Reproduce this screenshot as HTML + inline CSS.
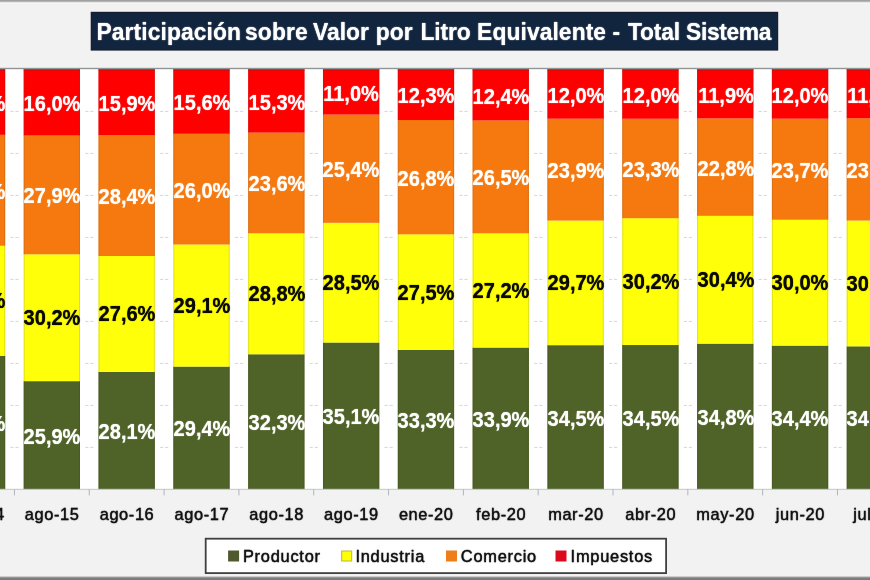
<!DOCTYPE html>
<html lang="es"><head><meta charset="utf-8"><title>Participación sobre Valor por Litro Equivalente</title>
<style>
html,body{margin:0;padding:0}
body{width:870px;height:580px;overflow:hidden;position:relative;background:#f2f2f2;font-family:"Liberation Sans",sans-serif}
.a{position:absolute}
svg{position:absolute;left:0;top:0}
#wrap{position:absolute;left:-10px;top:-10px;width:890px;height:600px;overflow:hidden;background:#f2f2f2}
#txt{position:absolute;left:0;top:0;width:870px;height:580px}
#in{position:absolute;left:10px;top:10px;width:870px;height:580px}
svg{overflow:visible}
.v{position:absolute;white-space:nowrap;font-weight:bold;font-size:21.2px;line-height:20px;height:20px;transform:translateX(-50%) scaleX(.945);text-shadow:0 0 1px currentColor}
.x{position:absolute;top:503.5px;width:90px;margin-left:-44.7px;text-align:center;font-size:16.4px;line-height:20px;color:#111;white-space:nowrap;letter-spacing:.6px;-webkit-text-stroke:.3px #111;text-shadow:0 0 1.2px rgba(17,17,17,.85)}
.lg{position:absolute;top:546.3px;-webkit-text-stroke:.3px #111;text-shadow:0 0 1.2px rgba(17,17,17,.85);font-size:16.4px;line-height:20px;color:#111;white-space:nowrap;letter-spacing:.75px}
</style></head><body>
<div id="wrap"><div id="in">
<div class="a" style="left:-10px;top:-10px;width:890px;height:14px;background:linear-gradient(#9c9c9c 0,#9c9c9c 10px,#a6a6a6 11.2px,#ececec 12.6px,#f6f6f6 13.2px,#f2f2f2 14px)"></div>
<div class="a" style="left:-10px;top:576.4px;width:890px;height:13.6px;background:linear-gradient(#f2f2f2 0,#a8a8a8 1px,#808080 2px,#7a7a7a 3.6px,#7a7a7a 13.6px)"></div>
<svg width="870" height="580" viewBox="0 0 870 580">
<rect x="-10" y="67.90" width="890" height="421.30" fill="#fff"/>
<rect x="-10" y="67.80" width="890" height="1.4" fill="#8f9494"/>
<rect x="-64.4" y="110.90" width="3.2" height="1" fill="#d3d6de"/><rect x="-59.4" y="110.90" width="3.2" height="1" fill="#d3d6de"/>
<rect x="10.4" y="110.90" width="3.2" height="1" fill="#d3d6de"/><rect x="15.4" y="110.90" width="3.2" height="1" fill="#d3d6de"/>
<rect x="85.3" y="110.90" width="3.2" height="1" fill="#d3d6de"/><rect x="90.3" y="110.90" width="3.2" height="1" fill="#d3d6de"/>
<rect x="160.1" y="110.90" width="3.2" height="1" fill="#d3d6de"/><rect x="165.1" y="110.90" width="3.2" height="1" fill="#d3d6de"/>
<rect x="234.9" y="110.90" width="3.2" height="1" fill="#d3d6de"/><rect x="239.9" y="110.90" width="3.2" height="1" fill="#d3d6de"/>
<rect x="309.7" y="110.90" width="3.2" height="1" fill="#d3d6de"/><rect x="314.7" y="110.90" width="3.2" height="1" fill="#d3d6de"/>
<rect x="384.5" y="110.90" width="3.2" height="1" fill="#d3d6de"/><rect x="389.5" y="110.90" width="3.2" height="1" fill="#d3d6de"/>
<rect x="459.4" y="110.90" width="3.2" height="1" fill="#d3d6de"/><rect x="464.4" y="110.90" width="3.2" height="1" fill="#d3d6de"/>
<rect x="534.2" y="110.90" width="3.2" height="1" fill="#d3d6de"/><rect x="539.2" y="110.90" width="3.2" height="1" fill="#d3d6de"/>
<rect x="609.0" y="110.90" width="3.2" height="1" fill="#d3d6de"/><rect x="614.0" y="110.90" width="3.2" height="1" fill="#d3d6de"/>
<rect x="683.8" y="110.90" width="3.2" height="1" fill="#d3d6de"/><rect x="688.8" y="110.90" width="3.2" height="1" fill="#d3d6de"/>
<rect x="758.6" y="110.90" width="3.2" height="1" fill="#d3d6de"/><rect x="763.6" y="110.90" width="3.2" height="1" fill="#d3d6de"/>
<rect x="833.5" y="110.90" width="3.2" height="1" fill="#d3d6de"/><rect x="838.5" y="110.90" width="3.2" height="1" fill="#d3d6de"/>
<rect x="-64.4" y="152.90" width="3.2" height="1" fill="#d3d6de"/><rect x="-59.4" y="152.90" width="3.2" height="1" fill="#d3d6de"/>
<rect x="10.4" y="152.90" width="3.2" height="1" fill="#d3d6de"/><rect x="15.4" y="152.90" width="3.2" height="1" fill="#d3d6de"/>
<rect x="85.3" y="152.90" width="3.2" height="1" fill="#d3d6de"/><rect x="90.3" y="152.90" width="3.2" height="1" fill="#d3d6de"/>
<rect x="160.1" y="152.90" width="3.2" height="1" fill="#d3d6de"/><rect x="165.1" y="152.90" width="3.2" height="1" fill="#d3d6de"/>
<rect x="234.9" y="152.90" width="3.2" height="1" fill="#d3d6de"/><rect x="239.9" y="152.90" width="3.2" height="1" fill="#d3d6de"/>
<rect x="309.7" y="152.90" width="3.2" height="1" fill="#d3d6de"/><rect x="314.7" y="152.90" width="3.2" height="1" fill="#d3d6de"/>
<rect x="384.5" y="152.90" width="3.2" height="1" fill="#d3d6de"/><rect x="389.5" y="152.90" width="3.2" height="1" fill="#d3d6de"/>
<rect x="459.4" y="152.90" width="3.2" height="1" fill="#d3d6de"/><rect x="464.4" y="152.90" width="3.2" height="1" fill="#d3d6de"/>
<rect x="534.2" y="152.90" width="3.2" height="1" fill="#d3d6de"/><rect x="539.2" y="152.90" width="3.2" height="1" fill="#d3d6de"/>
<rect x="609.0" y="152.90" width="3.2" height="1" fill="#d3d6de"/><rect x="614.0" y="152.90" width="3.2" height="1" fill="#d3d6de"/>
<rect x="683.8" y="152.90" width="3.2" height="1" fill="#d3d6de"/><rect x="688.8" y="152.90" width="3.2" height="1" fill="#d3d6de"/>
<rect x="758.6" y="152.90" width="3.2" height="1" fill="#d3d6de"/><rect x="763.6" y="152.90" width="3.2" height="1" fill="#d3d6de"/>
<rect x="833.5" y="152.90" width="3.2" height="1" fill="#d3d6de"/><rect x="838.5" y="152.90" width="3.2" height="1" fill="#d3d6de"/>
<rect x="-64.4" y="194.90" width="3.2" height="1" fill="#d3d6de"/><rect x="-59.4" y="194.90" width="3.2" height="1" fill="#d3d6de"/>
<rect x="10.4" y="194.90" width="3.2" height="1" fill="#d3d6de"/><rect x="15.4" y="194.90" width="3.2" height="1" fill="#d3d6de"/>
<rect x="85.3" y="194.90" width="3.2" height="1" fill="#d3d6de"/><rect x="90.3" y="194.90" width="3.2" height="1" fill="#d3d6de"/>
<rect x="160.1" y="194.90" width="3.2" height="1" fill="#d3d6de"/><rect x="165.1" y="194.90" width="3.2" height="1" fill="#d3d6de"/>
<rect x="234.9" y="194.90" width="3.2" height="1" fill="#d3d6de"/><rect x="239.9" y="194.90" width="3.2" height="1" fill="#d3d6de"/>
<rect x="309.7" y="194.90" width="3.2" height="1" fill="#d3d6de"/><rect x="314.7" y="194.90" width="3.2" height="1" fill="#d3d6de"/>
<rect x="384.5" y="194.90" width="3.2" height="1" fill="#d3d6de"/><rect x="389.5" y="194.90" width="3.2" height="1" fill="#d3d6de"/>
<rect x="459.4" y="194.90" width="3.2" height="1" fill="#d3d6de"/><rect x="464.4" y="194.90" width="3.2" height="1" fill="#d3d6de"/>
<rect x="534.2" y="194.90" width="3.2" height="1" fill="#d3d6de"/><rect x="539.2" y="194.90" width="3.2" height="1" fill="#d3d6de"/>
<rect x="609.0" y="194.90" width="3.2" height="1" fill="#d3d6de"/><rect x="614.0" y="194.90" width="3.2" height="1" fill="#d3d6de"/>
<rect x="683.8" y="194.90" width="3.2" height="1" fill="#d3d6de"/><rect x="688.8" y="194.90" width="3.2" height="1" fill="#d3d6de"/>
<rect x="758.6" y="194.90" width="3.2" height="1" fill="#d3d6de"/><rect x="763.6" y="194.90" width="3.2" height="1" fill="#d3d6de"/>
<rect x="833.5" y="194.90" width="3.2" height="1" fill="#d3d6de"/><rect x="838.5" y="194.90" width="3.2" height="1" fill="#d3d6de"/>
<rect x="-64.4" y="236.90" width="3.2" height="1" fill="#d3d6de"/><rect x="-59.4" y="236.90" width="3.2" height="1" fill="#d3d6de"/>
<rect x="10.4" y="236.90" width="3.2" height="1" fill="#d3d6de"/><rect x="15.4" y="236.90" width="3.2" height="1" fill="#d3d6de"/>
<rect x="85.3" y="236.90" width="3.2" height="1" fill="#d3d6de"/><rect x="90.3" y="236.90" width="3.2" height="1" fill="#d3d6de"/>
<rect x="160.1" y="236.90" width="3.2" height="1" fill="#d3d6de"/><rect x="165.1" y="236.90" width="3.2" height="1" fill="#d3d6de"/>
<rect x="234.9" y="236.90" width="3.2" height="1" fill="#d3d6de"/><rect x="239.9" y="236.90" width="3.2" height="1" fill="#d3d6de"/>
<rect x="309.7" y="236.90" width="3.2" height="1" fill="#d3d6de"/><rect x="314.7" y="236.90" width="3.2" height="1" fill="#d3d6de"/>
<rect x="384.5" y="236.90" width="3.2" height="1" fill="#d3d6de"/><rect x="389.5" y="236.90" width="3.2" height="1" fill="#d3d6de"/>
<rect x="459.4" y="236.90" width="3.2" height="1" fill="#d3d6de"/><rect x="464.4" y="236.90" width="3.2" height="1" fill="#d3d6de"/>
<rect x="534.2" y="236.90" width="3.2" height="1" fill="#d3d6de"/><rect x="539.2" y="236.90" width="3.2" height="1" fill="#d3d6de"/>
<rect x="609.0" y="236.90" width="3.2" height="1" fill="#d3d6de"/><rect x="614.0" y="236.90" width="3.2" height="1" fill="#d3d6de"/>
<rect x="683.8" y="236.90" width="3.2" height="1" fill="#d3d6de"/><rect x="688.8" y="236.90" width="3.2" height="1" fill="#d3d6de"/>
<rect x="758.6" y="236.90" width="3.2" height="1" fill="#d3d6de"/><rect x="763.6" y="236.90" width="3.2" height="1" fill="#d3d6de"/>
<rect x="833.5" y="236.90" width="3.2" height="1" fill="#d3d6de"/><rect x="838.5" y="236.90" width="3.2" height="1" fill="#d3d6de"/>
<rect x="-64.4" y="278.90" width="3.2" height="1" fill="#d3d6de"/><rect x="-59.4" y="278.90" width="3.2" height="1" fill="#d3d6de"/>
<rect x="10.4" y="278.90" width="3.2" height="1" fill="#d3d6de"/><rect x="15.4" y="278.90" width="3.2" height="1" fill="#d3d6de"/>
<rect x="85.3" y="278.90" width="3.2" height="1" fill="#d3d6de"/><rect x="90.3" y="278.90" width="3.2" height="1" fill="#d3d6de"/>
<rect x="160.1" y="278.90" width="3.2" height="1" fill="#d3d6de"/><rect x="165.1" y="278.90" width="3.2" height="1" fill="#d3d6de"/>
<rect x="234.9" y="278.90" width="3.2" height="1" fill="#d3d6de"/><rect x="239.9" y="278.90" width="3.2" height="1" fill="#d3d6de"/>
<rect x="309.7" y="278.90" width="3.2" height="1" fill="#d3d6de"/><rect x="314.7" y="278.90" width="3.2" height="1" fill="#d3d6de"/>
<rect x="384.5" y="278.90" width="3.2" height="1" fill="#d3d6de"/><rect x="389.5" y="278.90" width="3.2" height="1" fill="#d3d6de"/>
<rect x="459.4" y="278.90" width="3.2" height="1" fill="#d3d6de"/><rect x="464.4" y="278.90" width="3.2" height="1" fill="#d3d6de"/>
<rect x="534.2" y="278.90" width="3.2" height="1" fill="#d3d6de"/><rect x="539.2" y="278.90" width="3.2" height="1" fill="#d3d6de"/>
<rect x="609.0" y="278.90" width="3.2" height="1" fill="#d3d6de"/><rect x="614.0" y="278.90" width="3.2" height="1" fill="#d3d6de"/>
<rect x="683.8" y="278.90" width="3.2" height="1" fill="#d3d6de"/><rect x="688.8" y="278.90" width="3.2" height="1" fill="#d3d6de"/>
<rect x="758.6" y="278.90" width="3.2" height="1" fill="#d3d6de"/><rect x="763.6" y="278.90" width="3.2" height="1" fill="#d3d6de"/>
<rect x="833.5" y="278.90" width="3.2" height="1" fill="#d3d6de"/><rect x="838.5" y="278.90" width="3.2" height="1" fill="#d3d6de"/>
<rect x="-64.4" y="320.90" width="3.2" height="1" fill="#d3d6de"/><rect x="-59.4" y="320.90" width="3.2" height="1" fill="#d3d6de"/>
<rect x="10.4" y="320.90" width="3.2" height="1" fill="#d3d6de"/><rect x="15.4" y="320.90" width="3.2" height="1" fill="#d3d6de"/>
<rect x="85.3" y="320.90" width="3.2" height="1" fill="#d3d6de"/><rect x="90.3" y="320.90" width="3.2" height="1" fill="#d3d6de"/>
<rect x="160.1" y="320.90" width="3.2" height="1" fill="#d3d6de"/><rect x="165.1" y="320.90" width="3.2" height="1" fill="#d3d6de"/>
<rect x="234.9" y="320.90" width="3.2" height="1" fill="#d3d6de"/><rect x="239.9" y="320.90" width="3.2" height="1" fill="#d3d6de"/>
<rect x="309.7" y="320.90" width="3.2" height="1" fill="#d3d6de"/><rect x="314.7" y="320.90" width="3.2" height="1" fill="#d3d6de"/>
<rect x="384.5" y="320.90" width="3.2" height="1" fill="#d3d6de"/><rect x="389.5" y="320.90" width="3.2" height="1" fill="#d3d6de"/>
<rect x="459.4" y="320.90" width="3.2" height="1" fill="#d3d6de"/><rect x="464.4" y="320.90" width="3.2" height="1" fill="#d3d6de"/>
<rect x="534.2" y="320.90" width="3.2" height="1" fill="#d3d6de"/><rect x="539.2" y="320.90" width="3.2" height="1" fill="#d3d6de"/>
<rect x="609.0" y="320.90" width="3.2" height="1" fill="#d3d6de"/><rect x="614.0" y="320.90" width="3.2" height="1" fill="#d3d6de"/>
<rect x="683.8" y="320.90" width="3.2" height="1" fill="#d3d6de"/><rect x="688.8" y="320.90" width="3.2" height="1" fill="#d3d6de"/>
<rect x="758.6" y="320.90" width="3.2" height="1" fill="#d3d6de"/><rect x="763.6" y="320.90" width="3.2" height="1" fill="#d3d6de"/>
<rect x="833.5" y="320.90" width="3.2" height="1" fill="#d3d6de"/><rect x="838.5" y="320.90" width="3.2" height="1" fill="#d3d6de"/>
<rect x="-64.4" y="362.90" width="3.2" height="1" fill="#d3d6de"/><rect x="-59.4" y="362.90" width="3.2" height="1" fill="#d3d6de"/>
<rect x="10.4" y="362.90" width="3.2" height="1" fill="#d3d6de"/><rect x="15.4" y="362.90" width="3.2" height="1" fill="#d3d6de"/>
<rect x="85.3" y="362.90" width="3.2" height="1" fill="#d3d6de"/><rect x="90.3" y="362.90" width="3.2" height="1" fill="#d3d6de"/>
<rect x="160.1" y="362.90" width="3.2" height="1" fill="#d3d6de"/><rect x="165.1" y="362.90" width="3.2" height="1" fill="#d3d6de"/>
<rect x="234.9" y="362.90" width="3.2" height="1" fill="#d3d6de"/><rect x="239.9" y="362.90" width="3.2" height="1" fill="#d3d6de"/>
<rect x="309.7" y="362.90" width="3.2" height="1" fill="#d3d6de"/><rect x="314.7" y="362.90" width="3.2" height="1" fill="#d3d6de"/>
<rect x="384.5" y="362.90" width="3.2" height="1" fill="#d3d6de"/><rect x="389.5" y="362.90" width="3.2" height="1" fill="#d3d6de"/>
<rect x="459.4" y="362.90" width="3.2" height="1" fill="#d3d6de"/><rect x="464.4" y="362.90" width="3.2" height="1" fill="#d3d6de"/>
<rect x="534.2" y="362.90" width="3.2" height="1" fill="#d3d6de"/><rect x="539.2" y="362.90" width="3.2" height="1" fill="#d3d6de"/>
<rect x="609.0" y="362.90" width="3.2" height="1" fill="#d3d6de"/><rect x="614.0" y="362.90" width="3.2" height="1" fill="#d3d6de"/>
<rect x="683.8" y="362.90" width="3.2" height="1" fill="#d3d6de"/><rect x="688.8" y="362.90" width="3.2" height="1" fill="#d3d6de"/>
<rect x="758.6" y="362.90" width="3.2" height="1" fill="#d3d6de"/><rect x="763.6" y="362.90" width="3.2" height="1" fill="#d3d6de"/>
<rect x="833.5" y="362.90" width="3.2" height="1" fill="#d3d6de"/><rect x="838.5" y="362.90" width="3.2" height="1" fill="#d3d6de"/>
<rect x="-64.4" y="404.90" width="3.2" height="1" fill="#d3d6de"/><rect x="-59.4" y="404.90" width="3.2" height="1" fill="#d3d6de"/>
<rect x="10.4" y="404.90" width="3.2" height="1" fill="#d3d6de"/><rect x="15.4" y="404.90" width="3.2" height="1" fill="#d3d6de"/>
<rect x="85.3" y="404.90" width="3.2" height="1" fill="#d3d6de"/><rect x="90.3" y="404.90" width="3.2" height="1" fill="#d3d6de"/>
<rect x="160.1" y="404.90" width="3.2" height="1" fill="#d3d6de"/><rect x="165.1" y="404.90" width="3.2" height="1" fill="#d3d6de"/>
<rect x="234.9" y="404.90" width="3.2" height="1" fill="#d3d6de"/><rect x="239.9" y="404.90" width="3.2" height="1" fill="#d3d6de"/>
<rect x="309.7" y="404.90" width="3.2" height="1" fill="#d3d6de"/><rect x="314.7" y="404.90" width="3.2" height="1" fill="#d3d6de"/>
<rect x="384.5" y="404.90" width="3.2" height="1" fill="#d3d6de"/><rect x="389.5" y="404.90" width="3.2" height="1" fill="#d3d6de"/>
<rect x="459.4" y="404.90" width="3.2" height="1" fill="#d3d6de"/><rect x="464.4" y="404.90" width="3.2" height="1" fill="#d3d6de"/>
<rect x="534.2" y="404.90" width="3.2" height="1" fill="#d3d6de"/><rect x="539.2" y="404.90" width="3.2" height="1" fill="#d3d6de"/>
<rect x="609.0" y="404.90" width="3.2" height="1" fill="#d3d6de"/><rect x="614.0" y="404.90" width="3.2" height="1" fill="#d3d6de"/>
<rect x="683.8" y="404.90" width="3.2" height="1" fill="#d3d6de"/><rect x="688.8" y="404.90" width="3.2" height="1" fill="#d3d6de"/>
<rect x="758.6" y="404.90" width="3.2" height="1" fill="#d3d6de"/><rect x="763.6" y="404.90" width="3.2" height="1" fill="#d3d6de"/>
<rect x="833.5" y="404.90" width="3.2" height="1" fill="#d3d6de"/><rect x="838.5" y="404.90" width="3.2" height="1" fill="#d3d6de"/>
<rect x="-64.4" y="446.90" width="3.2" height="1" fill="#d3d6de"/><rect x="-59.4" y="446.90" width="3.2" height="1" fill="#d3d6de"/>
<rect x="10.4" y="446.90" width="3.2" height="1" fill="#d3d6de"/><rect x="15.4" y="446.90" width="3.2" height="1" fill="#d3d6de"/>
<rect x="85.3" y="446.90" width="3.2" height="1" fill="#d3d6de"/><rect x="90.3" y="446.90" width="3.2" height="1" fill="#d3d6de"/>
<rect x="160.1" y="446.90" width="3.2" height="1" fill="#d3d6de"/><rect x="165.1" y="446.90" width="3.2" height="1" fill="#d3d6de"/>
<rect x="234.9" y="446.90" width="3.2" height="1" fill="#d3d6de"/><rect x="239.9" y="446.90" width="3.2" height="1" fill="#d3d6de"/>
<rect x="309.7" y="446.90" width="3.2" height="1" fill="#d3d6de"/><rect x="314.7" y="446.90" width="3.2" height="1" fill="#d3d6de"/>
<rect x="384.5" y="446.90" width="3.2" height="1" fill="#d3d6de"/><rect x="389.5" y="446.90" width="3.2" height="1" fill="#d3d6de"/>
<rect x="459.4" y="446.90" width="3.2" height="1" fill="#d3d6de"/><rect x="464.4" y="446.90" width="3.2" height="1" fill="#d3d6de"/>
<rect x="534.2" y="446.90" width="3.2" height="1" fill="#d3d6de"/><rect x="539.2" y="446.90" width="3.2" height="1" fill="#d3d6de"/>
<rect x="609.0" y="446.90" width="3.2" height="1" fill="#d3d6de"/><rect x="614.0" y="446.90" width="3.2" height="1" fill="#d3d6de"/>
<rect x="683.8" y="446.90" width="3.2" height="1" fill="#d3d6de"/><rect x="688.8" y="446.90" width="3.2" height="1" fill="#d3d6de"/>
<rect x="758.6" y="446.90" width="3.2" height="1" fill="#d3d6de"/><rect x="763.6" y="446.90" width="3.2" height="1" fill="#d3d6de"/>
<rect x="833.5" y="446.90" width="3.2" height="1" fill="#d3d6de"/><rect x="838.5" y="446.90" width="3.2" height="1" fill="#d3d6de"/>
<rect x="-51.12" y="355.90" width="56.3" height="133.35" fill="#4f6228"/>
<rect x="-51.12" y="355.90" width="1" height="133.30" fill="#46561f" opacity=".55"/><rect x="4.18" y="355.90" width="1" height="133.30" fill="#46561f" opacity=".55"/>
<rect x="-51.12" y="245.70" width="56.3" height="110.25" fill="#ffff0a"/>
<rect x="-51.12" y="245.70" width="1" height="110.20" fill="#c9c91e" opacity=".55"/><rect x="4.18" y="245.70" width="1" height="110.20" fill="#c9c91e" opacity=".55"/>
<rect x="-51.12" y="134.80" width="56.3" height="110.95" fill="#f5790f"/>
<rect x="-51.12" y="134.80" width="1" height="110.90" fill="#c9691a" opacity=".55"/><rect x="4.18" y="134.80" width="1" height="110.90" fill="#c9691a" opacity=".55"/>
<rect x="-51.12" y="69.20" width="56.3" height="65.65" fill="#fe0000"/>
<rect x="-51.12" y="69.20" width="1" height="65.60" fill="#cf1010" opacity=".55"/><rect x="4.18" y="69.20" width="1" height="65.60" fill="#cf1010" opacity=".55"/>
<rect x="-51.12" y="69.20" width="56.3" height="1.5" fill="#a01c1c" opacity=".45"/>
<rect x="23.70" y="381.12" width="56.3" height="108.13" fill="#4f6228"/>
<rect x="23.70" y="381.12" width="1" height="108.08" fill="#46561f" opacity=".55"/><rect x="79.00" y="381.12" width="1" height="108.08" fill="#46561f" opacity=".55"/>
<rect x="23.70" y="254.28" width="56.3" height="126.89" fill="#ffff0a"/>
<rect x="23.70" y="254.28" width="1" height="126.84" fill="#c9c91e" opacity=".55"/><rect x="79.00" y="254.28" width="1" height="126.84" fill="#c9c91e" opacity=".55"/>
<rect x="23.70" y="135.50" width="56.3" height="118.83" fill="#f5790f"/>
<rect x="23.70" y="135.50" width="1" height="118.78" fill="#c9691a" opacity=".55"/><rect x="79.00" y="135.50" width="1" height="118.78" fill="#c9691a" opacity=".55"/>
<rect x="23.70" y="69.20" width="56.3" height="66.35" fill="#fe0000"/>
<rect x="23.70" y="69.20" width="1" height="66.30" fill="#cf1010" opacity=".55"/><rect x="79.00" y="69.20" width="1" height="66.30" fill="#cf1010" opacity=".55"/>
<rect x="23.70" y="69.20" width="56.3" height="1.5" fill="#a01c1c" opacity=".45"/>
<rect x="98.52" y="371.88" width="56.3" height="117.37" fill="#4f6228"/>
<rect x="98.52" y="371.88" width="1" height="117.32" fill="#46561f" opacity=".55"/><rect x="153.82" y="371.88" width="1" height="117.32" fill="#46561f" opacity=".55"/>
<rect x="98.52" y="255.96" width="56.3" height="115.97" fill="#ffff0a"/>
<rect x="98.52" y="255.96" width="1" height="115.92" fill="#c9c91e" opacity=".55"/><rect x="153.82" y="255.96" width="1" height="115.92" fill="#c9c91e" opacity=".55"/>
<rect x="98.52" y="135.08" width="56.3" height="120.93" fill="#f5790f"/>
<rect x="98.52" y="135.08" width="1" height="120.88" fill="#c9691a" opacity=".55"/><rect x="153.82" y="135.08" width="1" height="120.88" fill="#c9691a" opacity=".55"/>
<rect x="98.52" y="69.20" width="56.3" height="65.93" fill="#fe0000"/>
<rect x="98.52" y="69.20" width="1" height="65.88" fill="#cf1010" opacity=".55"/><rect x="153.82" y="69.20" width="1" height="65.88" fill="#cf1010" opacity=".55"/>
<rect x="98.52" y="69.20" width="56.3" height="1.5" fill="#a01c1c" opacity=".45"/>
<rect x="173.34" y="366.54" width="56.3" height="122.71" fill="#4f6228"/>
<rect x="173.34" y="366.54" width="1" height="122.66" fill="#46561f" opacity=".55"/><rect x="228.64" y="366.54" width="1" height="122.66" fill="#46561f" opacity=".55"/>
<rect x="173.34" y="244.45" width="56.3" height="122.15" fill="#ffff0a"/>
<rect x="173.34" y="244.45" width="1" height="122.10" fill="#c9c91e" opacity=".55"/><rect x="228.64" y="244.45" width="1" height="122.10" fill="#c9c91e" opacity=".55"/>
<rect x="173.34" y="133.75" width="56.3" height="110.74" fill="#f5790f"/>
<rect x="173.34" y="133.75" width="1" height="110.69" fill="#c9691a" opacity=".55"/><rect x="228.64" y="133.75" width="1" height="110.69" fill="#c9691a" opacity=".55"/>
<rect x="173.34" y="69.20" width="56.3" height="64.60" fill="#fe0000"/>
<rect x="173.34" y="69.20" width="1" height="64.55" fill="#cf1010" opacity=".55"/><rect x="228.64" y="69.20" width="1" height="64.55" fill="#cf1010" opacity=".55"/>
<rect x="173.34" y="69.20" width="56.3" height="1.5" fill="#a01c1c" opacity=".45"/>
<rect x="248.16" y="354.24" width="56.3" height="135.01" fill="#4f6228"/>
<rect x="248.16" y="354.24" width="1" height="134.96" fill="#46561f" opacity=".55"/><rect x="303.46" y="354.24" width="1" height="134.96" fill="#46561f" opacity=".55"/>
<rect x="248.16" y="233.28" width="56.3" height="121.01" fill="#ffff0a"/>
<rect x="248.16" y="233.28" width="1" height="120.96" fill="#c9c91e" opacity=".55"/><rect x="303.46" y="233.28" width="1" height="120.96" fill="#c9c91e" opacity=".55"/>
<rect x="248.16" y="132.56" width="56.3" height="100.77" fill="#f5790f"/>
<rect x="248.16" y="132.56" width="1" height="100.72" fill="#c9691a" opacity=".55"/><rect x="303.46" y="132.56" width="1" height="100.72" fill="#c9691a" opacity=".55"/>
<rect x="248.16" y="69.20" width="56.3" height="63.41" fill="#fe0000"/>
<rect x="248.16" y="69.20" width="1" height="63.36" fill="#cf1010" opacity=".55"/><rect x="303.46" y="69.20" width="1" height="63.36" fill="#cf1010" opacity=".55"/>
<rect x="248.16" y="69.20" width="56.3" height="1.5" fill="#a01c1c" opacity=".45"/>
<rect x="322.98" y="342.48" width="56.3" height="146.77" fill="#4f6228"/>
<rect x="322.98" y="342.48" width="1" height="146.72" fill="#46561f" opacity=".55"/><rect x="378.28" y="342.48" width="1" height="146.72" fill="#46561f" opacity=".55"/>
<rect x="322.98" y="222.78" width="56.3" height="119.75" fill="#ffff0a"/>
<rect x="322.98" y="222.78" width="1" height="119.70" fill="#c9c91e" opacity=".55"/><rect x="378.28" y="222.78" width="1" height="119.70" fill="#c9c91e" opacity=".55"/>
<rect x="322.98" y="114.50" width="56.3" height="108.33" fill="#f5790f"/>
<rect x="322.98" y="114.50" width="1" height="108.28" fill="#c9691a" opacity=".55"/><rect x="378.28" y="114.50" width="1" height="108.28" fill="#c9691a" opacity=".55"/>
<rect x="322.98" y="69.20" width="56.3" height="45.35" fill="#fe0000"/>
<rect x="322.98" y="69.20" width="1" height="45.30" fill="#cf1010" opacity=".55"/><rect x="378.28" y="69.20" width="1" height="45.30" fill="#cf1010" opacity=".55"/>
<rect x="322.98" y="69.20" width="56.3" height="1.5" fill="#a01c1c" opacity=".45"/>
<rect x="397.80" y="349.90" width="56.3" height="139.35" fill="#4f6228"/>
<rect x="397.80" y="349.90" width="1" height="139.30" fill="#46561f" opacity=".55"/><rect x="453.10" y="349.90" width="1" height="139.30" fill="#46561f" opacity=".55"/>
<rect x="397.80" y="234.28" width="56.3" height="115.67" fill="#ffff0a"/>
<rect x="397.80" y="234.28" width="1" height="115.62" fill="#c9c91e" opacity=".55"/><rect x="453.10" y="234.28" width="1" height="115.62" fill="#c9c91e" opacity=".55"/>
<rect x="397.80" y="120.01" width="56.3" height="114.32" fill="#f5790f"/>
<rect x="397.80" y="120.01" width="1" height="114.27" fill="#c9691a" opacity=".55"/><rect x="453.10" y="120.01" width="1" height="114.27" fill="#c9691a" opacity=".55"/>
<rect x="397.80" y="69.20" width="56.3" height="50.86" fill="#fe0000"/>
<rect x="397.80" y="69.20" width="1" height="50.81" fill="#cf1010" opacity=".55"/><rect x="453.10" y="69.20" width="1" height="50.81" fill="#cf1010" opacity=".55"/>
<rect x="397.80" y="69.20" width="56.3" height="1.5" fill="#a01c1c" opacity=".45"/>
<rect x="472.62" y="347.52" width="56.3" height="141.73" fill="#4f6228"/>
<rect x="472.62" y="347.52" width="1" height="141.68" fill="#46561f" opacity=".55"/><rect x="527.92" y="347.52" width="1" height="141.68" fill="#46561f" opacity=".55"/>
<rect x="472.62" y="233.28" width="56.3" height="114.29" fill="#ffff0a"/>
<rect x="472.62" y="233.28" width="1" height="114.24" fill="#c9c91e" opacity=".55"/><rect x="527.92" y="233.28" width="1" height="114.24" fill="#c9c91e" opacity=".55"/>
<rect x="472.62" y="120.38" width="56.3" height="112.95" fill="#f5790f"/>
<rect x="472.62" y="120.38" width="1" height="112.90" fill="#c9691a" opacity=".55"/><rect x="527.92" y="120.38" width="1" height="112.90" fill="#c9691a" opacity=".55"/>
<rect x="472.62" y="69.20" width="56.3" height="51.23" fill="#fe0000"/>
<rect x="472.62" y="69.20" width="1" height="51.18" fill="#cf1010" opacity=".55"/><rect x="527.92" y="69.20" width="1" height="51.18" fill="#cf1010" opacity=".55"/>
<rect x="472.62" y="69.20" width="56.3" height="1.5" fill="#a01c1c" opacity=".45"/>
<rect x="547.44" y="345.14" width="56.3" height="144.11" fill="#4f6228"/>
<rect x="547.44" y="345.14" width="1" height="144.06" fill="#46561f" opacity=".55"/><rect x="602.74" y="345.14" width="1" height="144.06" fill="#46561f" opacity=".55"/>
<rect x="547.44" y="220.53" width="56.3" height="124.67" fill="#ffff0a"/>
<rect x="547.44" y="220.53" width="1" height="124.62" fill="#c9c91e" opacity=".55"/><rect x="602.74" y="220.53" width="1" height="124.62" fill="#c9c91e" opacity=".55"/>
<rect x="547.44" y="118.65" width="56.3" height="101.93" fill="#f5790f"/>
<rect x="547.44" y="118.65" width="1" height="101.88" fill="#c9691a" opacity=".55"/><rect x="602.74" y="118.65" width="1" height="101.88" fill="#c9691a" opacity=".55"/>
<rect x="547.44" y="69.20" width="56.3" height="49.50" fill="#fe0000"/>
<rect x="547.44" y="69.20" width="1" height="49.45" fill="#cf1010" opacity=".55"/><rect x="602.74" y="69.20" width="1" height="49.45" fill="#cf1010" opacity=".55"/>
<rect x="547.44" y="69.20" width="56.3" height="1.5" fill="#a01c1c" opacity=".45"/>
<rect x="622.26" y="345.00" width="56.3" height="144.25" fill="#4f6228"/>
<rect x="622.26" y="345.00" width="1" height="144.20" fill="#46561f" opacity=".55"/><rect x="677.56" y="345.00" width="1" height="144.20" fill="#46561f" opacity=".55"/>
<rect x="622.26" y="218.16" width="56.3" height="126.89" fill="#ffff0a"/>
<rect x="622.26" y="218.16" width="1" height="126.84" fill="#c9c91e" opacity=".55"/><rect x="677.56" y="218.16" width="1" height="126.84" fill="#c9c91e" opacity=".55"/>
<rect x="622.26" y="118.70" width="56.3" height="99.51" fill="#f5790f"/>
<rect x="622.26" y="118.70" width="1" height="99.46" fill="#c9691a" opacity=".55"/><rect x="677.56" y="118.70" width="1" height="99.46" fill="#c9691a" opacity=".55"/>
<rect x="622.26" y="69.20" width="56.3" height="49.55" fill="#fe0000"/>
<rect x="622.26" y="69.20" width="1" height="49.50" fill="#cf1010" opacity=".55"/><rect x="677.56" y="69.20" width="1" height="49.50" fill="#cf1010" opacity=".55"/>
<rect x="622.26" y="69.20" width="56.3" height="1.5" fill="#a01c1c" opacity=".45"/>
<rect x="697.08" y="343.59" width="56.3" height="145.66" fill="#4f6228"/>
<rect x="697.08" y="343.59" width="1" height="145.61" fill="#46561f" opacity=".55"/><rect x="752.38" y="343.59" width="1" height="145.61" fill="#46561f" opacity=".55"/>
<rect x="697.08" y="215.79" width="56.3" height="127.86" fill="#ffff0a"/>
<rect x="697.08" y="215.79" width="1" height="127.81" fill="#c9c91e" opacity=".55"/><rect x="752.38" y="215.79" width="1" height="127.81" fill="#c9c91e" opacity=".55"/>
<rect x="697.08" y="118.33" width="56.3" height="97.51" fill="#f5790f"/>
<rect x="697.08" y="118.33" width="1" height="97.46" fill="#c9691a" opacity=".55"/><rect x="752.38" y="118.33" width="1" height="97.46" fill="#c9691a" opacity=".55"/>
<rect x="697.08" y="69.20" width="56.3" height="49.18" fill="#fe0000"/>
<rect x="697.08" y="69.20" width="1" height="49.13" fill="#cf1010" opacity=".55"/><rect x="752.38" y="69.20" width="1" height="49.13" fill="#cf1010" opacity=".55"/>
<rect x="697.08" y="69.20" width="56.3" height="1.5" fill="#a01c1c" opacity=".45"/>
<rect x="771.90" y="345.56" width="56.3" height="143.69" fill="#4f6228"/>
<rect x="771.90" y="345.56" width="1" height="143.64" fill="#46561f" opacity=".55"/><rect x="827.20" y="345.56" width="1" height="143.64" fill="#46561f" opacity=".55"/>
<rect x="771.90" y="219.69" width="56.3" height="125.92" fill="#ffff0a"/>
<rect x="771.90" y="219.69" width="1" height="125.87" fill="#c9c91e" opacity=".55"/><rect x="827.20" y="219.69" width="1" height="125.87" fill="#c9c91e" opacity=".55"/>
<rect x="771.90" y="118.65" width="56.3" height="101.09" fill="#f5790f"/>
<rect x="771.90" y="118.65" width="1" height="101.04" fill="#c9691a" opacity=".55"/><rect x="827.20" y="118.65" width="1" height="101.04" fill="#c9691a" opacity=".55"/>
<rect x="771.90" y="69.20" width="56.3" height="49.50" fill="#fe0000"/>
<rect x="771.90" y="69.20" width="1" height="49.45" fill="#cf1010" opacity=".55"/><rect x="827.20" y="69.20" width="1" height="49.45" fill="#cf1010" opacity=".55"/>
<rect x="771.90" y="69.20" width="56.3" height="1.5" fill="#a01c1c" opacity=".45"/>
<rect x="846.72" y="346.30" width="56.3" height="142.95" fill="#4f6228"/>
<rect x="846.72" y="346.30" width="1" height="142.90" fill="#46561f" opacity=".55"/><rect x="902.02" y="346.30" width="1" height="142.90" fill="#46561f" opacity=".55"/>
<rect x="846.72" y="220.50" width="56.3" height="125.85" fill="#ffff0a"/>
<rect x="846.72" y="220.50" width="1" height="125.80" fill="#c9c91e" opacity=".55"/><rect x="902.02" y="220.50" width="1" height="125.80" fill="#c9c91e" opacity=".55"/>
<rect x="846.72" y="118.20" width="56.3" height="102.35" fill="#f5790f"/>
<rect x="846.72" y="118.20" width="1" height="102.30" fill="#c9691a" opacity=".55"/><rect x="902.02" y="118.20" width="1" height="102.30" fill="#c9691a" opacity=".55"/>
<rect x="846.72" y="69.20" width="56.3" height="49.05" fill="#fe0000"/>
<rect x="846.72" y="69.20" width="1" height="49.00" fill="#cf1010" opacity=".55"/><rect x="902.02" y="69.20" width="1" height="49.00" fill="#cf1010" opacity=".55"/>
<rect x="846.72" y="69.20" width="56.3" height="1.5" fill="#a01c1c" opacity=".45"/>
<rect x="-10" y="488.80" width="890" height="1" fill="#c2c5c9"/>
<rect x="-60.88" y="489.20" width="1" height="6.2" fill="#b0b4bb"/>
<rect x="13.94" y="489.20" width="1" height="6.2" fill="#b0b4bb"/>
<rect x="88.76" y="489.20" width="1" height="6.2" fill="#b0b4bb"/>
<rect x="163.58" y="489.20" width="1" height="6.2" fill="#b0b4bb"/>
<rect x="238.40" y="489.20" width="1" height="6.2" fill="#b0b4bb"/>
<rect x="313.22" y="489.20" width="1" height="6.2" fill="#b0b4bb"/>
<rect x="388.04" y="489.20" width="1" height="6.2" fill="#b0b4bb"/>
<rect x="462.86" y="489.20" width="1" height="6.2" fill="#b0b4bb"/>
<rect x="537.68" y="489.20" width="1" height="6.2" fill="#b0b4bb"/>
<rect x="612.50" y="489.20" width="1" height="6.2" fill="#b0b4bb"/>
<rect x="687.32" y="489.20" width="1" height="6.2" fill="#b0b4bb"/>
<rect x="762.14" y="489.20" width="1" height="6.2" fill="#b0b4bb"/>
<rect x="836.96" y="489.20" width="1" height="6.2" fill="#b0b4bb"/>
<rect x="90.7" y="11.8" width="687.5" height="38.8" fill="#181f2c"/>
<rect x="91.7" y="12.9" width="685.5" height="36.6" fill="#11253f"/>
<rect x="205.7" y="538.7" width="460.4" height="34.4" fill="#fff" stroke="#404040" stroke-width="1.8"/>
<rect x="228.1" y="550.5" width="11" height="11" fill="#4e5a2e"/>
<rect x="341.7" y="551" width="10" height="10" fill="#ffff0a" stroke="#b9b92a" stroke-width="1"/>
<rect x="446" y="550.5" width="11" height="11" fill="#ee7d1c"/>
<rect x="555.5" y="550.5" width="11" height="11" fill="#dd0a1e"/>
</svg>
<div id="txt">
<div class="a" id="title" style="left:0;top:17.4px;width:870px;height:30px;line-height:30px;font-size:22.8px;font-weight:bold;color:#fff;white-space:nowrap;text-shadow:0 0 1.2px #fff;transform:scaleY(1.03);transform-origin:50% 50%">
<span class="a" style="left:96.5px;top:0;letter-spacing:0.1px">Participación </span>
<span class="a" style="left:245.1px;top:0;letter-spacing:0.1px">sobre </span>
<span class="a" style="left:313.1px;top:0;letter-spacing:0px">Valor </span>
<span class="a" style="left:375.8px;top:0;letter-spacing:0px">por </span>
<span class="a" style="left:420.5px;top:0;letter-spacing:-0.1px">Litro </span>
<span class="a" style="left:477.1px;top:0;letter-spacing:0.1px">Equivalente </span>
<span class="a" style="left:612.6px;top:0;letter-spacing:0px">- </span>
<span class="a" style="left:627.9px;top:0;letter-spacing:-0.15px">Total </span>
<span class="a" style="left:686.1px;top:0;letter-spacing:-0.35px">Sistema</span>
</div>
<span class="v" style="left:-22.7px;top:414.0px;color:rgba(255,255,255,.94)">31,7%</span>
<span class="v" style="left:-22.7px;top:291.3px;color:#0a0a00">26,2%</span>
<span class="v" style="left:-22.7px;top:181.8px;color:rgba(255,255,255,.94)">26,4%</span>
<span class="v" style="left:-22.7px;top:93.8px;color:rgba(255,255,255,.94)">15,7%</span>
<div class="x" style="left:-23.0px">ago-14</div>
<span class="v" style="left:52.1px;top:426.7px;color:rgba(255,255,255,.94)">25,9%</span>
<span class="v" style="left:52.1px;top:308.2px;color:#0a0a00">30,2%</span>
<span class="v" style="left:52.1px;top:186.4px;color:rgba(255,255,255,.94)">27,9%</span>
<span class="v" style="left:52.1px;top:94.1px;color:rgba(255,255,255,.94)">16,0%</span>
<div class="x" style="left:51.8px">ago-15</div>
<span class="v" style="left:127.0px;top:422.0px;color:rgba(255,255,255,.94)">28,1%</span>
<span class="v" style="left:127.0px;top:304.4px;color:#0a0a00">27,6%</span>
<span class="v" style="left:127.0px;top:187.0px;color:rgba(255,255,255,.94)">28,4%</span>
<span class="v" style="left:127.0px;top:93.9px;color:rgba(255,255,255,.94)">15,9%</span>
<div class="x" style="left:126.7px">ago-16</div>
<span class="v" style="left:201.8px;top:419.4px;color:rgba(255,255,255,.94)">29,4%</span>
<span class="v" style="left:201.8px;top:296.0px;color:#0a0a00">29,1%</span>
<span class="v" style="left:201.8px;top:180.6px;color:rgba(255,255,255,.94)">26,0%</span>
<span class="v" style="left:201.8px;top:93.3px;color:rgba(255,255,255,.94)">15,6%</span>
<div class="x" style="left:201.5px">ago-17</div>
<span class="v" style="left:276.6px;top:413.2px;color:rgba(255,255,255,.94)">32,3%</span>
<span class="v" style="left:276.6px;top:284.3px;color:#0a0a00">28,8%</span>
<span class="v" style="left:276.6px;top:174.4px;color:rgba(255,255,255,.94)">23,6%</span>
<span class="v" style="left:276.6px;top:92.7px;color:rgba(255,255,255,.94)">15,3%</span>
<div class="x" style="left:276.3px">ago-18</div>
<span class="v" style="left:351.4px;top:407.3px;color:rgba(255,255,255,.94)">35,1%</span>
<span class="v" style="left:351.4px;top:273.1px;color:#0a0a00">28,5%</span>
<span class="v" style="left:351.4px;top:160.1px;color:rgba(255,255,255,.94)">25,4%</span>
<span class="v" style="left:351.4px;top:83.6px;color:rgba(255,255,255,.94)">11,0%</span>
<div class="x" style="left:351.1px">ago-19</div>
<span class="v" style="left:426.2px;top:411.0px;color:rgba(255,255,255,.94)">33,3%</span>
<span class="v" style="left:426.2px;top:282.6px;color:#0a0a00">27,5%</span>
<span class="v" style="left:426.2px;top:168.6px;color:rgba(255,255,255,.94)">26,8%</span>
<span class="v" style="left:426.2px;top:86.4px;color:rgba(255,255,255,.94)">12,3%</span>
<div class="x" style="left:425.9px">ene-20</div>
<span class="v" style="left:501.1px;top:409.9px;color:rgba(255,255,255,.94)">33,9%</span>
<span class="v" style="left:501.1px;top:280.9px;color:#0a0a00">27,2%</span>
<span class="v" style="left:501.1px;top:168.3px;color:rgba(255,255,255,.94)">26,5%</span>
<span class="v" style="left:501.1px;top:86.6px;color:rgba(255,255,255,.94)">12,4%</span>
<div class="x" style="left:500.8px">feb-20</div>
<span class="v" style="left:575.9px;top:408.7px;color:rgba(255,255,255,.94)">34,5%</span>
<span class="v" style="left:575.9px;top:273.3px;color:#0a0a00">29,7%</span>
<span class="v" style="left:575.9px;top:161.1px;color:rgba(255,255,255,.94)">23,9%</span>
<span class="v" style="left:575.9px;top:85.7px;color:rgba(255,255,255,.94)">12,0%</span>
<div class="x" style="left:575.6px">mar-20</div>
<span class="v" style="left:650.7px;top:408.6px;color:rgba(255,255,255,.94)">34,5%</span>
<span class="v" style="left:650.7px;top:272.1px;color:#0a0a00">30,2%</span>
<span class="v" style="left:650.7px;top:159.9px;color:rgba(255,255,255,.94)">23,3%</span>
<span class="v" style="left:650.7px;top:85.7px;color:rgba(255,255,255,.94)">12,0%</span>
<div class="x" style="left:650.4px">abr-20</div>
<span class="v" style="left:725.5px;top:407.9px;color:rgba(255,255,255,.94)">34,8%</span>
<span class="v" style="left:725.5px;top:270.2px;color:#0a0a00">30,4%</span>
<span class="v" style="left:725.5px;top:158.6px;color:rgba(255,255,255,.94)">22,8%</span>
<span class="v" style="left:725.5px;top:85.6px;color:rgba(255,255,255,.94)">11,9%</span>
<div class="x" style="left:725.2px">may-20</div>
<span class="v" style="left:800.3px;top:408.9px;color:rgba(255,255,255,.94)">34,4%</span>
<span class="v" style="left:800.3px;top:273.1px;color:#0a0a00">30,0%</span>
<span class="v" style="left:800.3px;top:160.7px;color:rgba(255,255,255,.94)">23,7%</span>
<span class="v" style="left:800.3px;top:85.7px;color:rgba(255,255,255,.94)">12,0%</span>
<div class="x" style="left:800.0px">jun-20</div>
<span class="v" style="left:875.2px;top:409.2px;color:rgba(255,255,255,.94)">34,3%</span>
<span class="v" style="left:875.2px;top:273.9px;color:#0a0a00">30,1%</span>
<span class="v" style="left:875.2px;top:160.8px;color:rgba(255,255,255,.94)">23,7%</span>
<span class="v" style="left:875.2px;top:85.5px;color:rgba(255,255,255,.94)">11,9%</span>
<div class="x" style="left:874.9px">jul-20</div>
<div class="lg" style="left:242.9px">Productor</div>
<div class="lg" style="left:355.4px">Industria</div>
<div class="lg" style="left:460.8px">Comercio</div>
<div class="lg" style="left:570.6px">Impuestos</div>
</div>
</div></div>
</body></html>
